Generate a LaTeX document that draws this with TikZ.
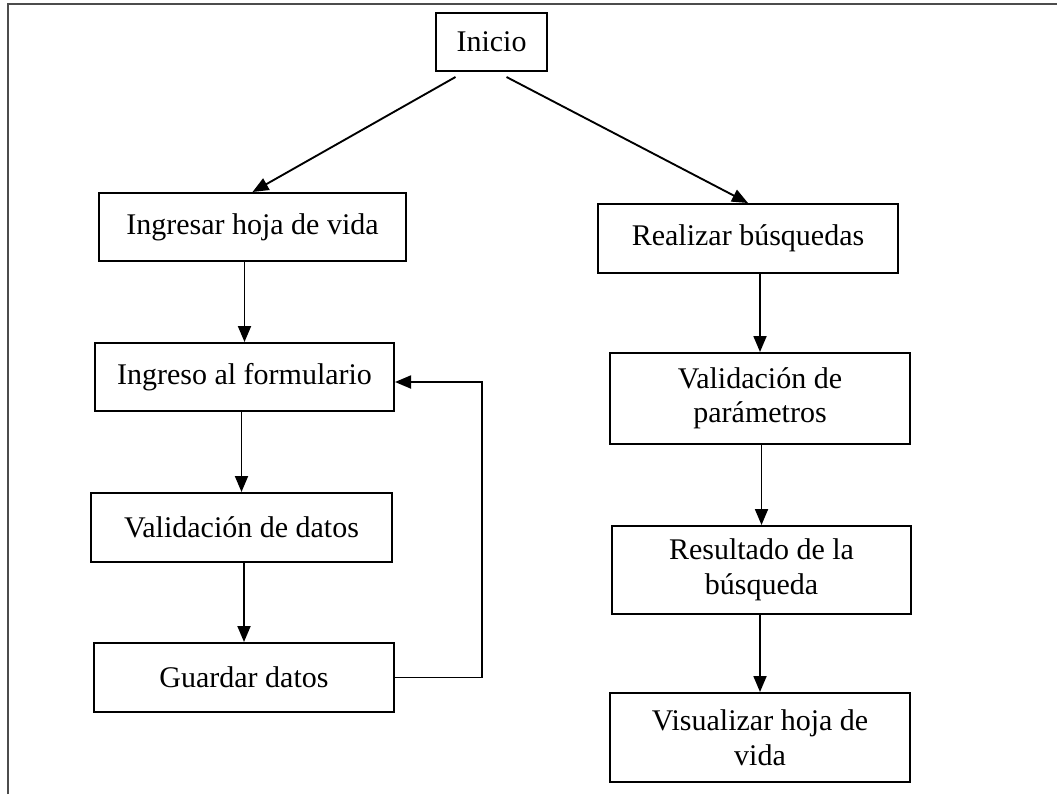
\documentclass[tikz,border=0pt]{standalone}
\usepackage{fontspec}
\setmainfont{Liberation Serif}
\usepackage{tikz}
\usetikzlibrary{positioning}
\usetikzlibrary{calc}
\usetikzlibrary{arrows.meta}
\tikzset{
	caja/.style={draw, line width=0.8pt, align=center, inner sep=2pt, font=\fontsize{12}{13.8}\selectfont},
	flecha/.style={line width=0.75pt, -{Triangle[length=6.4pt,width=5.2pt]}},
	marco/.style={draw=black!70, line width=0.8pt}
}
\begin{document}
\begin{tikzpicture}[x=0.4pt, y=-0.4pt]
	\useasboundingbox (0,0) rectangle (1057,794);
	\draw[marco] (8,794) -- (8,3.5) -- (1057,3.5);
	\node (inicio) at (491.5,42) [caja, minimum width=44.4pt, minimum height=23.2pt] {Inicio};
	\node (ingresar) at (252.5,227) [caja, minimum width=122.8pt, minimum height=27.2pt] {Ingresar hoja de vida};
	\node (formulario) at (244.5,377) [caja, minimum width=119.6pt, minimum height=27.2pt] {Ingreso al formulario};
	\node (valdatos) at (241.5,527.5) [caja, minimum width=120.4pt, minimum height=27.6pt] {Validación de datos};
	\node (guardar) at (244,677.5) [caja, minimum width=120pt, minimum height=27.6pt] {Guardar datos};
	\node (realizar) at (748,238.5) [caja, minimum width=120pt, minimum height=27.6pt] {Realizar búsquedas};
	\node (valparam) at (760,398.5) [caja, minimum width=120pt, minimum height=36.4pt] {Validación de\\parámetros};
	\node (resultado) at (761.5,570) [caja, minimum width=119.6pt, minimum height=35.2pt] {Resultado de la\\búsqueda};
	\node (visualizar) at (760,737.5) [caja, minimum width=120pt, minimum height=35.6pt] {Visualizar hoja de\\vida};
	\coordinate (giro) at (482,382);
	\draw[flecha] ([xshift=-14.4pt,yshift=-2pt]inicio.south) -- (ingresar.north);
	\draw[flecha] ([xshift=6pt,yshift=-2pt]inicio.south) -- (realizar.north);
	\draw[flecha] (formulario.north |- ingresar.south) -- (formulario.north);
	\draw[flecha] (valdatos.north |- formulario.south) -- (valdatos.north);
	\draw[flecha] (guardar.north |- valdatos.south) -- (guardar.north);
	\draw[flecha] (guardar.east) -| (giro) -- (giro -| formulario.east);
	\draw[flecha] (valparam.north |- realizar.south) -- (valparam.north);
	\draw[flecha] (resultado.north |- valparam.south) -- (resultado.north);
	\draw[flecha] (visualizar.north |- resultado.south) -- (visualizar.north);
\end{tikzpicture}
\end{document}
